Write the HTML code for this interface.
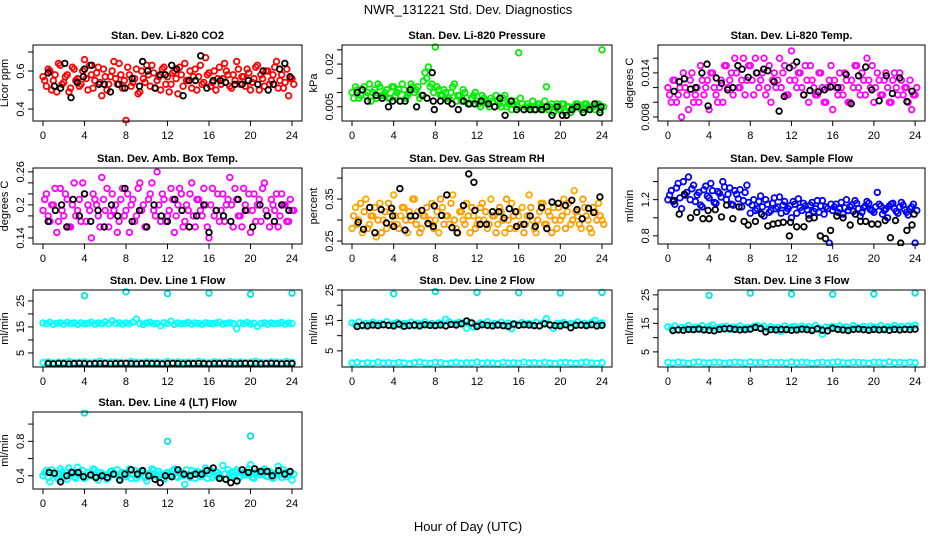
<!DOCTYPE html>
<html><head><meta charset="utf-8"><title>NWR_131221 Std. Dev. Diagnostics</title>
<style>
html,body{margin:0;padding:0;background:#fff;}
svg{display:block;font-family:"Liberation Sans",sans-serif;}
</style></head>
<body>
<svg id="chart" width="936" height="540" viewBox="0 0 936 540" xmlns="http://www.w3.org/2000/svg">
<rect width="936" height="540" fill="#fff"/>
<text x="468" y="14" text-anchor="middle" font-size="13">NWR_131221  Std. Dev. Diagnostics</text>
<text x="468" y="531" text-anchor="middle" font-size="13">Hour of Day (UTC)</text>
</svg>
<script>
// ---------- data ----------
const xTicks = [0,4,8,12,16,20,24];

const co2Red = [0.57,0.52,0.60,0.55,0.49,0.63,0.54,0.58,0.51,0.61,0.56,0.53,0.66,0.50,0.58,0.55,0.62,0.47,0.57,0.53,0.60,0.56,0.64,0.51,0.34,0.58,0.54,0.61,0.49,0.56,0.63,0.52,0.59,0.55,0.50,0.62,0.57,0.53,0.60,0.48,0.58,0.64,0.55,0.51,0.61,0.57,0.53,0.67,0.59,0.54,0.50,0.62,0.56,0.60,0.52,0.58,0.65,0.53,0.57,0.61,0.50,0.56,0.63,0.58,0.52,0.60,0.55,0.62,0.51,0.58,0.54,0.47,0.56];
const co2RedB = [0.55,0.61,0.50,0.58,0.64,0.53,0.57,0.49,0.62,0.55,0.52,0.60,0.56,0.63,0.51,0.59,0.54,0.61,0.50,0.57,0.65,0.53,0.58,0.55,0.62,0.52,0.56,0.48,0.60,0.54,0.58,0.63,0.51,0.57,0.61,0.53,0.49,0.59,0.56,0.62,0.52,0.55,0.60,0.57,0.50,0.63,0.54,0.58,0.52,0.60,0.56,0.53,0.64,0.58,0.51,0.55,0.61,0.57,0.52,0.59,0.54,0.62,0.50,0.56,0.60,0.53,0.58,0.65,0.55,0.51,0.61,0.56,0.53];
const co2BlackT = [0.5,1.1,1.7,2.1,2.7,3.3,3.9,4.0,4.7,5.4,5.9,6.5,7.3,7.9,8.6,9.3,9.6,10.1,10.8,11.3,11.8,12.4,12.9,13.5,14.1,14.7,15.2,15.8,16.4,17.1,17.6,18.5,19.2,19.8,20.7,21.2,21.7,22.2,22.8,23.3,23.8];
const co2Black = [0.59,0.52,0.51,0.64,0.46,0.54,0.57,0.61,0.63,0.53,0.53,0.49,0.53,0.51,0.56,0.52,0.65,0.60,0.51,0.58,0.58,0.63,0.61,0.47,0.55,0.55,0.68,0.51,0.55,0.55,0.54,0.53,0.53,0.55,0.53,0.60,0.50,0.53,0.61,0.64,0.57];

const presGreen = [0.010,0.012,0.008,0.011,0.009,0.013,0.010,0.008,0.012,0.009,0.011,0.008,0.012,0.010,0.007,0.011,0.009,0.013,0.010,0.012,0.009,0.017,0.019,0.013,0.026,0.011,0.009,0.010,0.008,0.012,0.007,0.009,0.011,0.008,0.006,0.009,0.007,0.005,0.008,0.006,0.008,0.005,0.007,0.005,0.009,0.006,0.004,0.007,0.024,0.006,0.005,0.005,0.007,0.004,0.006,0.004,0.012,0.005,0.003,0.006,0.004,0.006,0.005,0.003,0.005,0.006,0.004,0.006,0.005,0.005,0.004,0.006,0.025];
const presGreenB = [0.008,0.011,0.009,0.012,0.010,0.007,0.011,0.013,0.009,0.010,0.008,0.012,0.009,0.011,0.013,0.008,0.010,0.012,0.011,0.008,0.014,0.015,0.012,0.010,0.012,0.009,0.011,0.008,0.010,0.013,0.009,0.007,0.010,0.006,0.008,0.010,0.006,0.009,0.007,0.005,0.007,0.009,0.006,0.008,0.005,0.007,0.006,0.005,0.008,0.004,0.006,0.005,0.004,0.006,0.005,0.007,0.004,0.006,0.005,0.004,0.006,0.003,0.005,0.004,0.006,0.005,0.004,0.006,0.004,0.005,0.006,0.004,0.005];
const presBlackT = [0.5,1.0,1.5,2.3,2.9,3.5,3.9,4.6,5.1,5.6,6.2,6.8,7.2,7.7,7.8,7.9,8.5,9.2,9.6,10.2,10.7,11.2,11.8,12.4,13.1,13.7,14.2,14.7,15.3,15.8,16.5,17.1,17.6,18.2,18.7,19.2,19.7,20.2,20.6,21.1,21.6,22.2,22.8,23.3,23.8,23.9];
const presBlack = [0.010,0.011,0.007,0.009,0.008,0.005,0.007,0.007,0.007,0.011,0.005,0.009,0.008,0.017,0.007,0.004,0.007,0.007,0.006,0.004,0.007,0.006,0.006,0.007,0.006,0.005,0.008,0.002,0.007,0.004,0.004,0.004,0.004,0.004,0.005,0.002,0.005,0.002,0.002,0.004,0.005,0.003,0.004,0.006,0.003,0.005];

const tempMag = [0.012,0.010,0.013,0.011,0.008,0.012,0.009,0.014,0.011,0.010,0.013,0.012,0.009,0.014,0.011,0.012,0.010,0.015,0.013,0.011,0.014,0.012,0.016,0.013,0.015,0.011,0.014,0.013,0.016,0.012,0.010,0.014,0.013,0.012,0.015,0.011,0.017,0.013,0.014,0.012,0.015,0.010,0.013,0.011,0.014,0.012,0.010,0.013,0.009,0.012,0.014,0.011,0.013,0.010,0.012,0.015,0.011,0.013,0.016,0.012,0.010,0.014,0.011,0.013,0.012,0.010,0.014,0.011,0.013,0.012,0.010,0.009,0.011];
const tempMagB = [0.011,0.013,0.010,0.012,0.014,0.011,0.013,0.010,0.012,0.015,0.011,0.013,0.014,0.012,0.010,0.013,0.015,0.012,0.014,0.016,0.012,0.013,0.011,0.015,0.013,0.016,0.012,0.014,0.011,0.015,0.013,0.012,0.016,0.014,0.011,0.013,0.015,0.012,0.014,0.011,0.013,0.015,0.012,0.011,0.014,0.010,0.012,0.015,0.013,0.011,0.012,0.014,0.010,0.013,0.015,0.012,0.014,0.011,0.013,0.015,0.012,0.013,0.011,0.014,0.010,0.013,0.012,0.014,0.011,0.012,0.013,0.011,0.012];
const tempBlackT = [0.6,1.1,1.6,2.2,2.7,3.3,3.8,3.9,4.7,5.2,5.8,6.3,6.8,7.2,7.8,8.6,9.3,9.7,10.3,10.8,11.3,11.8,12.5,13.2,13.8,14.6,15.2,15.8,16.5,17.3,17.8,18.5,19.2,19.8,20.5,21.2,21.8,22.5,23.2,23.7];
const tempBlack = [0.0115,0.0128,0.0132,0.0118,0.012,0.014,0.0152,0.0095,0.0133,0.0126,0.0117,0.012,0.015,0.0145,0.0134,0.014,0.0145,0.0143,0.0128,0.0088,0.0108,0.0147,0.0155,0.011,0.0116,0.0114,0.0117,0.0121,0.012,0.0138,0.0098,0.0136,0.0148,0.0117,0.0102,0.0136,0.0112,0.0133,0.0101,0.0115];

const ambMag = [0.19,0.22,0.17,0.20,0.15,0.23,0.18,0.21,0.16,0.24,0.19,0.17,0.22,0.20,0.14,0.21,0.18,0.25,0.19,0.16,0.22,0.20,0.17,0.23,0.19,0.15,0.21,0.18,0.24,0.20,0.16,0.22,0.19,0.26,0.17,0.21,0.18,0.23,0.15,0.20,0.22,0.17,0.19,0.24,0.16,0.21,0.18,0.20,0.14,0.23,0.19,0.17,0.22,0.20,0.25,0.16,0.21,0.18,0.23,0.19,0.15,0.22,0.20,0.17,0.24,0.18,0.21,0.19,0.16,0.22,0.20,0.17,0.19];
const ambMagB = [0.21,0.18,0.20,0.23,0.17,0.19,0.22,0.16,0.20,0.18,0.21,0.24,0.17,0.19,0.22,0.20,0.16,0.21,0.23,0.18,0.19,0.15,0.21,0.18,0.22,0.20,0.17,0.23,0.19,0.16,0.21,0.24,0.18,0.20,0.22,0.17,0.19,0.21,0.18,0.23,0.16,0.20,0.22,0.18,0.21,0.19,0.23,0.16,0.20,0.18,0.22,0.19,0.17,0.21,0.20,0.23,0.18,0.16,0.20,0.22,0.19,0.17,0.21,0.23,0.19,0.16,0.20,0.22,0.18,0.20,0.17,0.21,0.19];
const ambBlackT = [0.5,1.2,1.8,2.3,2.9,3.5,4.0,4.6,5.3,5.9,6.6,7.2,7.9,8.6,9.3,10.0,10.7,11.4,12.0,12.7,13.4,14.1,14.8,15.5,16.0,16.7,17.4,18.1,18.8,19.5,20.2,20.9,21.6,22.3,23.0,23.7];
const ambBlack = [0.17,0.19,0.20,0.16,0.21,0.18,0.22,0.17,0.19,0.16,0.20,0.18,0.23,0.17,0.19,0.16,0.20,0.18,0.17,0.21,0.19,0.16,0.18,0.20,0.15,0.19,0.18,0.17,0.21,0.19,0.16,0.20,0.18,0.17,0.20,0.19];

const rhOrange = [0.28,0.33,0.30,0.27,0.35,0.29,0.31,0.26,0.34,0.30,0.28,0.32,0.36,0.29,0.31,0.33,0.27,0.30,0.35,0.32,0.28,0.31,0.29,0.34,0.30,0.27,0.33,0.31,0.29,0.36,0.28,0.32,0.30,0.34,0.27,0.31,0.29,0.33,0.30,0.28,0.35,0.31,0.29,0.32,0.27,0.30,0.34,0.28,0.31,0.33,0.29,0.36,0.30,0.27,0.32,0.34,0.29,0.31,0.33,0.28,0.30,0.35,0.32,0.29,0.37,0.31,0.28,0.33,0.30,0.27,0.32,0.34,0.30];
const rhOrangeB = [0.31,0.29,0.34,0.32,0.28,0.31,0.33,0.30,0.27,0.32,0.34,0.29,0.31,0.28,0.33,0.30,0.32,0.35,0.29,0.27,0.31,0.33,0.30,0.28,0.32,0.35,0.29,0.31,0.34,0.30,0.27,0.32,0.29,0.31,0.33,0.28,0.30,0.34,0.32,0.29,0.31,0.27,0.33,0.30,0.35,0.28,0.31,0.32,0.29,0.27,0.31,0.33,0.28,0.30,0.34,0.29,0.32,0.27,0.30,0.33,0.31,0.28,0.34,0.30,0.32,0.29,0.35,0.31,0.28,0.33,0.30,0.31,0.29];
const rhBlackT = [0.6,1.1,1.7,2.2,2.8,3.3,3.8,3.9,4.0,4.6,5.1,5.6,6.1,6.7,7.3,7.8,7.9,8.6,9.1,9.6,10.1,10.7,11.2,11.7,11.8,12.3,12.9,13.5,14.1,14.6,15.1,15.7,15.8,16.5,17.1,17.6,18.2,18.7,19.2,19.8,20.5,21.1,21.6,22.1,22.7,23.2,23.8];
const rhBlack = [0.295,0.278,0.33,0.27,0.325,0.293,0.328,0.31,0.285,0.375,0.276,0.31,0.31,0.323,0.292,0.285,0.334,0.311,0.36,0.282,0.27,0.335,0.41,0.39,0.323,0.29,0.29,0.32,0.32,0.305,0.327,0.32,0.285,0.29,0.31,0.285,0.33,0.28,0.343,0.34,0.335,0.347,0.325,0.303,0.328,0.318,0.355];

const flowBlue = [1.20,1.30,1.15,1.38,1.10,1.25,1.45,1.32,1.18,1.28,1.12,1.35,1.22,1.30,1.16,1.27,1.40,1.20,1.33,1.14,1.26,1.31,1.19,1.36,1.05,1.20,1.10,1.24,1.02,1.15,1.08,1.22,1.12,1.05,1.18,1.10,1.00,1.15,1.21,1.08,1.13,1.03,1.17,1.10,1.06,1.19,1.12,0.72,1.08,1.15,1.10,1.04,1.20,1.12,1.07,1.16,1.02,1.11,1.18,1.09,1.06,1.28,1.13,1.08,1.00,1.15,1.10,1.05,1.17,1.09,1.03,1.12,0.72];
const flowBlueB = [1.25,1.18,1.33,1.22,1.40,1.28,1.20,1.36,1.25,1.14,1.31,1.24,1.38,1.17,1.29,1.23,1.34,1.26,1.15,1.30,1.21,1.12,1.28,1.17,1.14,1.08,1.18,1.12,1.20,1.06,1.16,1.10,1.23,1.14,1.07,1.13,1.18,1.05,1.11,1.16,1.09,1.14,1.07,1.19,1.13,1.04,1.10,1.15,1.12,1.06,1.17,1.11,1.08,1.14,1.19,1.10,1.06,1.13,1.16,1.08,1.12,1.15,1.04,1.10,1.13,1.16,1.07,1.12,1.14,1.06,1.10,1.15,1.08];
const flowBlackT = [0.6,1.1,1.6,2.2,2.8,3.4,3.9,4.0,4.6,5.2,5.7,6.3,6.9,7.4,7.8,8.5,9.1,9.7,10.2,10.7,11.2,11.8,11.9,12.5,13.2,13.7,14.2,14.8,15.3,15.8,16.4,17.0,17.7,18.2,18.7,19.2,19.8,20.4,21.1,21.6,22.1,22.6,23.2,23.7,23.9];
const flowBlack = [1.19,1.04,1.26,1.00,1.06,0.99,1.08,0.99,1.09,1.01,1.14,0.99,1.12,0.96,0.92,0.96,1.04,0.91,0.93,0.94,0.95,0.80,0.95,0.90,0.90,0.99,1.00,0.80,0.77,0.86,1.02,1.00,0.92,1.04,0.96,0.96,0.93,0.93,0.97,0.78,0.97,0.72,0.86,0.92,1.04];

const calibT = [4,8,12,16,20,24];
const line1High = [16.5,16.2,16.8,16.0,16.4,16.6,16.1,16.7,16.3,16.5,16.0,16.6,16.2,16.4,16.8,16.1,16.5,16.3,16.9,16.2,17.3,16.4,16.6,16.1,16.5,16.2,16.8,18.0,16.3,16.0,16.5,16.7,16.2,16.4,15.5,16.6,16.3,17.2,16.0,16.5,16.2,16.4,16.7,16.1,16.5,16.3,16.0,16.6,16.4,16.2,16.5,16.8,16.1,16.4,16.6,16.3,14.3,16.5,16.2,16.7,16.1,16.4,15.2,16.3,16.6,16.0,16.5,16.2,16.4,16.7,16.1,16.5,16.3];
const line1Low = [1.3,1.6,1.2,1.5,1.4,1.7,1.3,1.5,1.6,1.2,1.4,1.8,1.3,1.5,1.6,1.4,1.2,1.7,1.5,1.3,1.6,1.4,1.5,1.2,1.7,1.3,1.6,1.4,1.5,1.3,1.8,1.4,1.2,1.6,1.5,1.3,1.7,1.4,1.6,1.3,1.5,1.8,1.4,1.2,1.6,1.5,1.3,1.7,1.4];
const line1Calib = [27.0,28.5,27.8,28.0,27.6,28.0];
const line1Black = [0.9,0.8,1.0,0.9,0.8,0.9,1.0,0.9,0.8,0.9,0.9,1.0,0.8,0.9,0.9,1.0,0.9,0.8,0.9,1.0,0.9,0.9,0.8,0.9,1.0,0.9,0.8,0.9,0.9,1.0,0.9,0.8,0.9,0.9,1.0,0.9,0.8,0.9,1.0,0.9,0.9,0.8,0.9,1.0,0.9,0.8,0.9,0.9];

const line2High = [14.2,13.6,14.5,13.2,14.0,13.8,14.4,13.4,14.1,13.7,14.6,13.3,13.9,14.3,13.5,14.0,13.8,14.4,13.2,14.1,13.7,14.5,13.5,14.0,13.6,14.2,13.9,15.4,14.6,13.7,14.1,14.4,14.0,12.4,14.3,12.8,13.5,14.2,13.8,14.6,13.4,14.0,13.7,14.4,13.2,14.1,12.3,13.9,13.5,14.3,13.8,14.0,13.6,14.4,13.3,14.2,15.6,13.7,12.4,14.1,13.9,14.3,13.6,14.0,13.8,14.5,13.4,14.1,13.7,14.3,15.0,13.9,14.2];
const line2Low = [1.0,1.2,0.8,1.1,0.9,1.3,1.0,1.1,0.9,1.2,1.0,0.8,1.1,1.3,1.0,0.9,1.2,1.1,0.8,1.0,1.2,0.9,1.1,1.0,1.3,0.9,1.1,1.0,0.8,1.2,1.0,1.1,0.9,1.3,1.0,1.1,0.9,1.2,1.0,0.8,1.1,1.2,1.0,0.9,1.1,1.3,1.0,0.9,1.1];
const line2Calib = [23.8,24.5,24.2,24.1,24.0,24.2];
const line2Black = [13.0,13.4,13.2,13.5,13.3,13.6,13.4,13.2,13.8,13.1,13.3,13.5,13.2,13.6,13.4,13.3,13.5,13.2,13.7,13.5,13.9,14.8,14.2,13.0,13.6,13.4,13.2,13.5,13.3,13.1,13.8,13.4,13.6,13.5,13.3,13.2,13.9,13.5,13.3,13.2,13.6,12.6,13.4,13.5,13.3,13.6,13.2,13.4];

const line3High = [13.8,13.2,14.1,12.9,13.6,13.4,14.3,13.0,13.7,13.5,14.2,13.1,13.9,14.4,13.3,13.6,13.8,14.0,12.8,13.7,13.4,14.1,13.2,13.6,13.3,13.9,14.2,13.5,14.0,13.1,13.8,13.4,13.6,12.2,14.1,13.3,13.7,13.9,13.2,14.0,13.5,13.8,13.1,14.3,13.4,11.2,13.7,13.6,13.9,13.3,14.1,13.5,13.8,13.2,14.2,13.6,13.4,13.9,13.1,14.0,13.7,13.5,14.2,13.3,13.8,13.6,14.3,13.4,13.9,13.2,14.1,13.7,14.4];
const line3Low = [1.3,1.1,1.4,1.2,1.0,1.3,1.5,1.2,1.1,1.4,1.3,1.0,1.2,1.4,1.3,1.1,1.5,1.2,1.3,1.0,1.4,1.2,1.3,1.1,1.5,1.2,1.4,1.3,1.0,1.2,1.4,1.1,1.3,1.5,1.2,1.1,1.4,1.3,1.2,1.0,1.4,1.3,1.1,1.5,1.2,1.3,1.1,1.4,1.2];
const line3Calib = [24.8,25.6,25.3,25.2,25.3,25.7];
const line3Black = [12.5,12.7,12.6,12.9,12.8,13.0,12.7,12.6,12.4,12.9,13.1,13.2,12.9,12.7,12.8,13.0,13.6,13.2,12.0,12.8,12.7,12.9,12.8,12.6,12.7,13.0,12.8,12.5,13.1,12.6,12.4,13.3,12.9,12.7,12.5,12.9,13.0,12.8,12.6,12.9,12.7,12.8,12.6,12.9,12.7,12.9,12.8,13.0];

const lt4Cyan = [0.40,0.46,0.33,0.43,0.38,0.48,0.41,0.36,0.45,0.39,0.50,0.42,0.37,0.44,0.40,0.47,0.35,0.43,0.41,0.38,0.46,0.42,0.36,0.44,0.39,0.48,0.41,0.37,0.45,0.40,0.34,0.43,0.47,0.39,0.42,0.36,0.44,0.40,0.48,0.38,0.43,0.30,0.41,0.46,0.37,0.44,0.40,0.49,0.42,0.38,0.45,0.41,0.52,0.36,0.43,0.40,0.47,0.39,0.44,0.42,0.53,0.37,0.45,0.41,0.48,0.39,0.43,0.40,0.51,0.38,0.44,0.41,0.35];
const lt4CyanB = [0.44,0.38,0.47,0.41,0.36,0.45,0.40,0.49,0.43,0.37,0.42,0.46,0.39,0.41,0.48,0.38,0.44,0.40,0.36,0.45,0.42,0.47,0.39,0.43,0.41,0.37,0.46,0.40,0.44,0.38,0.42,0.48,0.40,0.45,0.37,0.43,0.41,0.46,0.39,0.44,0.40,0.47,0.38,0.42,0.45,0.39,0.43,0.37,0.46,0.41,0.44,0.38,0.42,0.47,0.40,0.45,0.39,0.43,0.41,0.48,0.38,0.44,0.42,0.46,0.40,0.45,0.37,0.43,0.41,0.47,0.39,0.44,0.42];
const lt4CalibT = [4,12,20];
const lt4Calib = [1.13,0.80,0.86];
const lt4BlackT = [0.6,1.1,1.7,2.3,2.8,3.4,3.9,4.6,5.1,5.7,6.2,6.8,7.4,7.9,8.5,9.1,9.6,10.2,10.8,11.3,11.8,12.4,13.0,13.6,14.2,14.7,15.3,15.8,16.4,17.0,17.6,18.1,18.7,19.2,19.8,20.4,21.0,21.6,22.1,22.7,23.3,23.8];
const lt4Black = [0.44,0.43,0.33,0.40,0.44,0.44,0.39,0.41,0.38,0.40,0.38,0.42,0.35,0.42,0.47,0.42,0.46,0.40,0.36,0.32,0.40,0.39,0.47,0.42,0.40,0.42,0.42,0.46,0.49,0.37,0.36,0.32,0.34,0.47,0.44,0.48,0.45,0.45,0.40,0.46,0.42,0.45];

// ---------- drawing ----------
const NS = 'http://www.w3.org/2000/svg';
const svg = document.getElementById('chart');
function mk(tag, attrs, parent){
  const e = document.createElementNS(NS, tag);
  for (const k in attrs) e.setAttribute(k, attrs[k]);
  (parent||svg).appendChild(e);
  return e;
}
function idxT(arr, step, start){ return arr.map((_, i) => start + i * step); }

const COLS = [[33,302],[342,612],[658,925]];
const ROWS = [[45,121],[168,244],[290,367],[412,489]];
const XMIN = -0.96, XMAX = 24.96;

function panel(slug, title, col, row, ymin, ymax, ticks, labels, ytitle, series){
  const [l, r] = COLS[col], [t, b] = ROWS[row];
  const g = mk('g', {});
  
  
  const sx = v => l + (v - XMIN) / (XMAX - XMIN) * (r - l);
  const sy = v => b - (v - ymin) / (ymax - ymin) * (b - t);
  const tt = mk('text', {x:(l+r)/2, y:t-6, 'text-anchor':'middle', 'font-size':11, 'font-weight':'bold'}, g);
  tt.textContent = title;
  
  
  const yt = mk('text', {transform:`translate(${l-25},${(t+b)/2}) rotate(-90)`, 'text-anchor':'middle', 'font-size':11}, g);
  yt.textContent = ytitle;
  
  
  const clip = mk('clipPath', {id:'c'+slug}, g);
  mk('rect', {x:l, y:t-2, width:r-l, height:b-t+4}, clip);
  const pg = mk('g', {'clip-path':`url(#c${slug})`}, g);
  series.forEach(s => {
    const sg = mk('g', {fill:'none', stroke:s.color, 'stroke-width':1.8}, pg);
    
    
    s.v.forEach((v, i) => {
      const c = mk('circle', {cx:sx(s.t[i]).toFixed(1), cy:sy(v).toFixed(1), r:2.8}, sg);
      
      
    });
  });
  const fr = mk('rect', {x:l, y:t, width:r-l, height:b-t, fill:'none', stroke:'#000', 'stroke-width':1}, g);
  
  
  xTicks.forEach(v => {
    const x = sx(v);
    mk('line', {x1:x, x2:x, y1:b, y2:b+5, stroke:'#000'}, g);
    const lb = mk('text', {x:x, y:b+18, 'text-anchor':'middle', 'font-size':11}, g);
    lb.textContent = v;
    
    
  });
  ticks.forEach(v => {
    const y = sy(v);
    mk('line', {x1:l-5, x2:l, y1:y, y2:y, stroke:'#000'}, g);
    if (labels.includes(v)) {
      const lb = mk('text', {transform:`translate(${l-9},${y}) rotate(-90)`, 'text-anchor':'middle', 'font-size':11}, g);
      lb.textContent = String(v);
      
      
    }
  });
}

const T73 = idxT(co2Red, 1/3, 0);
const T73B = idxT(co2RedB, 1/3, 1/6);
const T49 = idxT(line1Low, 0.5, 0);
const T48 = idxT(line1Black, 0.5, 0.5);

panel('co2','Stan. Dev. Li-820 CO2',0,0,0.337,0.737,[0.4,0.5,0.6,0.7],[0.4,0.6],'Licor ppm',
  [{name:'red-series',color:'#ff0000',t:T73,v:co2Red},{name:'red-series-b',color:'#ff0000',t:T73B,v:co2RedB},{name:'black-series',color:'#000',t:co2BlackT,v:co2Black}]);
panel('pressure','Stan. Dev. Li-820 Pressure',1,0,0.0,0.0267,[0.005,0.010,0.015,0.020,0.025],[0.005,0.020],'kPa',
  [{name:'green-series',color:'#00ee00',t:T73,v:presGreen},{name:'green-series-b',color:'#00ee00',t:T73B,v:presGreenB},{name:'black-series',color:'#000',t:presBlackT,v:presBlack}]);
panel('temp','Stan. Dev. Li-820 Temp.',2,0,0.00745,0.0178,[0.008,0.010,0.012,0.014,0.016],[0.008,0.014],'degrees C',
  [{name:'magenta-series',color:'#ff00ff',t:T73,v:tempMag},{name:'magenta-series-b',color:'#ff00ff',t:T73B,v:tempMagB},{name:'black-series',color:'#000',t:tempBlackT,v:tempBlack}]);
panel('ambbox','Stan. Dev. Amb. Box Temp.',0,1,0.129,0.267,[0.14,0.16,0.18,0.20,0.22,0.24,0.26],[0.14,0.20,0.26],'degrees C',
  [{name:'magenta-series',color:'#ff00ff',t:T73,v:ambMag},{name:'magenta-series-b',color:'#ff00ff',t:T73B,v:ambMagB},{name:'black-series',color:'#000',t:ambBlackT,v:ambBlack}]);
panel('rh','Stan. Dev. Gas Stream RH',1,1,0.243,0.424,[0.25,0.30,0.35,0.40],[0.25,0.35],'percent',
  [{name:'orange-series',color:'#ffaa00',t:T73,v:rhOrange},{name:'orange-series-b',color:'#ff9900',t:T73B,v:rhOrangeB},{name:'black-series',color:'#000',t:rhBlackT,v:rhBlack}]);
panel('sampleflow','Stan. Dev. Sample Flow',2,1,0.71,1.55,[0.8,1.0,1.2,1.4],[0.8,1.2],'ml/min',
  [{name:'blue-series',color:'#0000ff',t:T73,v:flowBlue},{name:'blue-series-b',color:'#0000ff',t:T73B,v:flowBlueB},{name:'black-series',color:'#000',t:flowBlackT,v:flowBlack}]);
panel('line1','Stan. Dev. Line 1 Flow',0,2,-0.4,29.2,[5,10,15,20,25],[5,15,25],'ml/min',
  [{name:'cyan-high',color:'#00ffff',t:T73,v:line1High},{name:'cyan-low',color:'#00ffff',t:T49,v:line1Low},
   {name:'cyan-calib',color:'#00e0e0',t:calibT,v:line1Calib},{name:'black-series',color:'#000',t:T48,v:line1Black}]);
panel('line2','Stan. Dev. Line 2 Flow',1,2,-0.3,25.0,[5,10,15,20,25],[5,15,25],'ml/min',
  [{name:'cyan-high',color:'#00ffff',t:T73,v:line2High},{name:'cyan-low',color:'#00ffff',t:T49,v:line2Low},
   {name:'cyan-calib',color:'#00e0e0',t:calibT,v:line2Calib},{name:'black-series',color:'#000',t:T48,v:line2Black}]);
panel('line3','Stan. Dev. Line 3 Flow',2,2,-0.3,26.7,[5,10,15,20,25],[5,15,25],'ml/min',
  [{name:'cyan-high',color:'#00ffff',t:T73,v:line3High},{name:'cyan-low',color:'#00ffff',t:T49,v:line3Low},
   {name:'cyan-calib',color:'#00e0e0',t:calibT,v:line3Calib},{name:'black-series',color:'#000',t:T48,v:line3Black}]);
panel('line4','Stan. Dev. Line 4 (LT) Flow',0,3,0.247,1.14,[0.4,0.6,0.8,1.0],[0.4,0.8],'ml/min',
  [{name:'cyan-series',color:'#00ffff',t:T73,v:lt4Cyan},{name:'cyan-series-b',color:'#00ffff',t:T73B,v:lt4CyanB},{name:'cyan-calib',color:'#00e0e0',t:lt4CalibT,v:lt4Calib},
   {name:'black-series',color:'#000',t:lt4BlackT,v:lt4Black}]);
</script>
</body></html>
